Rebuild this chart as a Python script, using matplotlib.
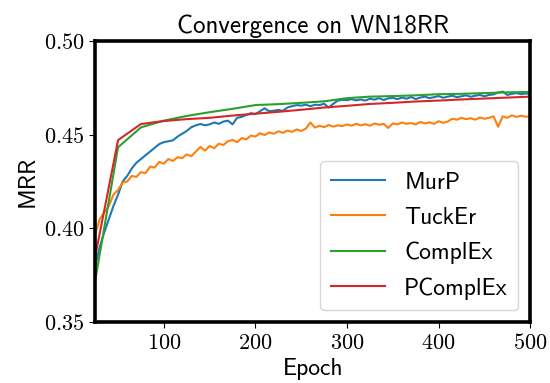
import numpy as np

import matplotlib

matplotlib.use("Agg")
import matplotlib.pyplot as plt
from matplotlib.ticker import FuncFormatter

plt.rcParams["mathtext.fontset"] = "cm"

# MRR evaluated every 5 epochs (MurP, TuckEr) and every 25 epochs (ComplEx, PComplEx)
epochs_fine = np.arange(25, 501, 5)
epochs_coarse = np.arange(25, 501, 25)

murp = [
    0.380, 0.390, 0.398, 0.405, 0.412, 0.418, 0.425, 0.428, 0.432, 0.435,
    0.437, 0.439, 0.441, 0.443, 0.445, 0.446, 0.4465, 0.447, 0.449, 0.4505,
    0.452, 0.454, 0.455, 0.4557, 0.455, 0.4555, 0.4565, 0.4558, 0.457, 0.4575,
    0.4555, 0.459, 0.4595, 0.4605, 0.4615, 0.461, 0.4625, 0.4641, 0.4625, 0.4628,
    0.4632, 0.4627, 0.4645, 0.4652, 0.4658, 0.4655, 0.4660, 0.4652, 0.4660, 0.4658,
    0.4665, 0.4645, 0.4665, 0.4682, 0.4686, 0.4684, 0.4690, 0.4683, 0.4688, 0.4682,
    0.4692, 0.4687, 0.4695, 0.4685, 0.4694, 0.4696, 0.4690, 0.4698, 0.4692, 0.4701,
    0.4690, 0.4698, 0.4703, 0.4695, 0.4700, 0.4706, 0.4697, 0.4703, 0.4708, 0.4700,
    0.4705, 0.4710, 0.4702, 0.4708, 0.4712, 0.4705, 0.4712, 0.4715, 0.4725, 0.4730,
    0.4712, 0.4718, 0.4722, 0.4716, 0.4720, 0.4718,
]

tucker = [
    0.397, 0.405, 0.4085, 0.412, 0.418, 0.4205, 0.4245, 0.425, 0.428, 0.4275,
    0.430, 0.4295, 0.433, 0.4325, 0.4355, 0.4345, 0.437, 0.436, 0.438, 0.4375,
    0.4395, 0.4385, 0.441, 0.4435, 0.4415, 0.4440, 0.4428, 0.4452, 0.4445, 0.4465,
    0.4472, 0.4460, 0.4482, 0.4475, 0.4495, 0.4490, 0.4508, 0.4498, 0.4512, 0.4505,
    0.4518, 0.4510, 0.4522, 0.4515, 0.4528, 0.4520, 0.4532, 0.4565, 0.4538, 0.4548,
    0.4540, 0.4552, 0.4543, 0.4550, 0.4546, 0.4555, 0.4548, 0.4558, 0.4550, 0.4556,
    0.4548, 0.4560, 0.4553, 0.4558, 0.4536, 0.4560, 0.4555, 0.4565, 0.4558, 0.4562,
    0.4555, 0.4568, 0.4560, 0.4566, 0.4558, 0.4572, 0.4563, 0.4570, 0.4585, 0.4580,
    0.4590, 0.4583, 0.4588, 0.4580, 0.4592, 0.4585, 0.4590, 0.4598, 0.4542, 0.4598,
    0.4590, 0.4603, 0.4595, 0.4601, 0.4596, 0.4598,
]

complex_ = [
    0.372, 0.4433, 0.4539, 0.4575, 0.4600, 0.4620, 0.4638, 0.4658, 0.4663, 0.4670,
    0.4678, 0.4695, 0.4703, 0.4706, 0.4710, 0.4716, 0.4718, 0.4722, 0.4726, 0.4728,
]

pcomplex = [
    0.3849, 0.4471, 0.4557, 0.4573, 0.4583, 0.4590, 0.4602, 0.4612, 0.4622, 0.4633,
    0.4645, 0.4654, 0.4664, 0.4670, 0.4677, 0.4682, 0.4688, 0.4693, 0.4698, 0.4703,
]

SANS = "cmss10"

fig = plt.figure(figsize=(5.5, 3.83), dpi=100)
ax = fig.add_axes([0.173, 0.159, 0.791, 0.734])

ax.plot(epochs_fine, murp, color="tab:blue", lw=1.5, label="MurP")
ax.plot(epochs_fine, tucker, color="tab:orange", lw=1.5, label="TuckEr")
ax.plot(epochs_coarse, complex_, color="tab:green", lw=1.5, label="ComplEx")
ax.plot(epochs_coarse, pcomplex, color="tab:red", lw=1.5, label="PComplEx")

ax.set_xlim(25, 500)
ax.set_ylim(0.35, 0.50)
ax.set_xticks([100, 200, 300, 400, 500])
ax.set_yticks([0.35, 0.40, 0.45, 0.50])
ax.xaxis.set_major_formatter(FuncFormatter(lambda v, _: rf"${v:.0f}$"))
ax.yaxis.set_major_formatter(FuncFormatter(lambda v, _: rf"${v:.2f}$"))
ax.tick_params(labelsize=16, length=4, width=0.8)

for spine in ax.spines.values():
    spine.set_linewidth(2.6)

ax.set_title("Convergence on WN18RR", family=SANS, fontsize=18)
ax.set_xlabel("Epoch", family=SANS, fontsize=17, labelpad=4)
ax.set_ylabel("MRR", family=SANS, fontsize=17)

ax.legend(loc="lower right", prop={"family": SANS, "size": 17},
          handlelength=2.3, handletextpad=0.8, borderpad=0.45,
          labelspacing=0.55)

fig.savefig("out.png", dpi=100)
